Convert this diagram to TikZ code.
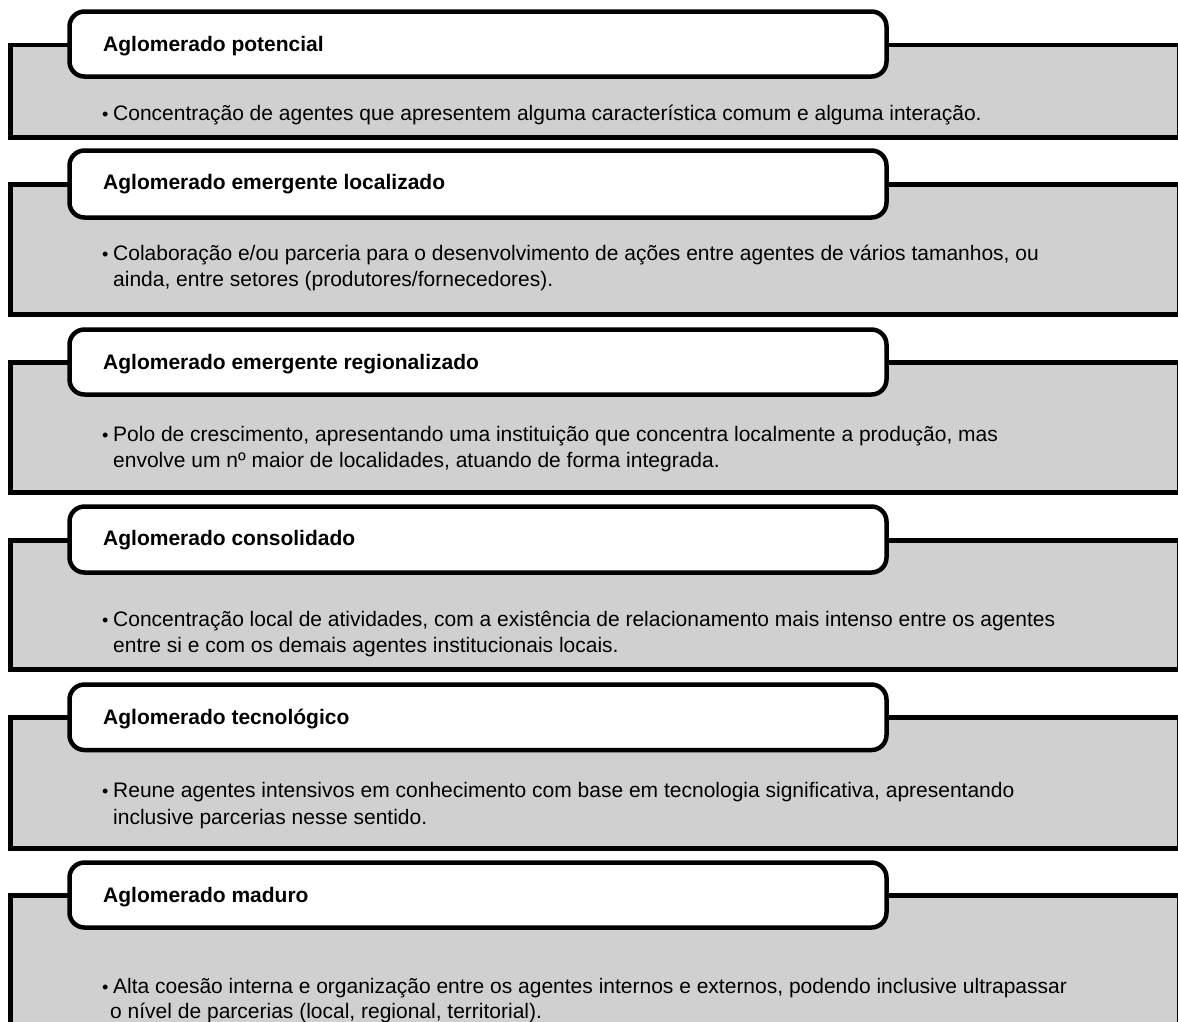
\documentclass[tikz,border=0pt]{standalone}
\usepackage{fontspec}
\setmainfont{Liberation Sans}
\definecolor{panelgray}{RGB}{208,208,208}
\tikzset{
  panel/.style={draw=black, line width=4.5pt, fill=panelgray},
  hdrbox/.style={draw=black, line width=4.5pt, fill=white, rounded corners=15pt},
  hdrtext/.style={anchor=base west, inner sep=0pt, font=\fontsize{21}{25}\selectfont\bfseries},
  bodytext/.style={anchor=base west, inner sep=0pt, font=\fontsize{21}{25}\selectfont},
  bullettext/.style={anchor=base west, inner sep=0pt, font=\fontsize{18}{20}\selectfont},
}
\begin{document}
\begin{tikzpicture}[x=1pt,y=-1pt]
\useasboundingbox (0,0) rectangle (1178,1021);
\clip (0,0) rectangle (1178,1021);

% Panel 1
\draw[panel] (10.5,45) rectangle (1179.5,137.5);
\draw[hdrbox] (69.5,11.5) rectangle (886.5,76.5);
\node[hdrtext] (h1) at (103,51.5) {Aglomerado potencial};
\node[bullettext] (b1) at (102,120.5) {•};
\node[bodytext] (t1a) at (113,120.5) {Concentração de agentes que apresentem alguma característica comum e alguma interação.};

% Panel 2
\draw[panel] (10.5,184.5) rectangle (1179.5,314.5);
\draw[hdrbox] (69.5,150.5) rectangle (886.5,217.5);
\node[hdrtext] (h2) at (103,189) {Aglomerado emergente localizado};
\node[bullettext] (b2) at (102,260) {•};
\node[bodytext] (t2a) at (113,260) {Colaboração e/ou parceria para o desenvolvimento de ações entre agentes de vários tamanhos, ou};
\node[bodytext] (t2b) at (113,286.5) {ainda, entre setores (produtores/fornecedores).};

% Panel 3
\draw[panel] (10.5,362.5) rectangle (1179.5,492.5);
\draw[hdrbox] (69.5,329.5) rectangle (886.5,394.5);
\node[hdrtext] (h3) at (103,369.5) {Aglomerado emergente regionalizado};
\node[bullettext] (b3) at (102,441) {•};
\node[bodytext] (t3a) at (113,441) {Polo de crescimento, apresentando uma instituição que concentra localmente a produção, mas};
\node[bodytext] (t3b) at (113,467) {envolve um nº maior de localidades, atuando de forma integrada.};

% Panel 4
\draw[panel] (10.5,540.5) rectangle (1179.5,669.5);
\draw[hdrbox] (69.5,506.5) rectangle (886.5,572.5);
\node[hdrtext] (h4) at (103,545.5) {Aglomerado consolidado};
\node[bullettext] (b4) at (102,626) {•};
\node[bodytext] (t4a) at (113,626) {Concentração local de atividades, com a existência de relacionamento mais intenso entre os agentes};
\node[bodytext] (t4b) at (113,652) {entre si e com os demais agentes institucionais locais.};

% Panel 5
\draw[panel] (10.5,717.5) rectangle (1179.5,848.5);
\draw[hdrbox] (69.5,684.5) rectangle (886.5,750);
\node[hdrtext] (h5) at (103,724.5) {Aglomerado tecnológico};
\node[bullettext] (b5) at (102,797) {•};
\node[bodytext] (t5a) at (113,797) {Reune agentes intensivos em conhecimento com base em tecnologia significativa, apresentando};
\node[bodytext] (t5b) at (113,824) {inclusive parcerias nesse sentido.};

% Panel 6
\draw[panel] (10.5,895.5) rectangle (1179.5,1060);
\draw[hdrbox] (69.5,862.5) rectangle (886.5,927.5);
\node[hdrtext] (h6) at (103,902.5) {Aglomerado maduro};
\node[bullettext] (b6) at (102,993) {•};
\node[bodytext] (t6a) at (113,993) {Alta coesão interna e organização entre os agentes internos e externos, podendo inclusive ultrapassar};
\node[bodytext] (t6b) at (110,1018) {o nível de parcerias (local, regional, territorial).};
\end{tikzpicture}
\end{document}
